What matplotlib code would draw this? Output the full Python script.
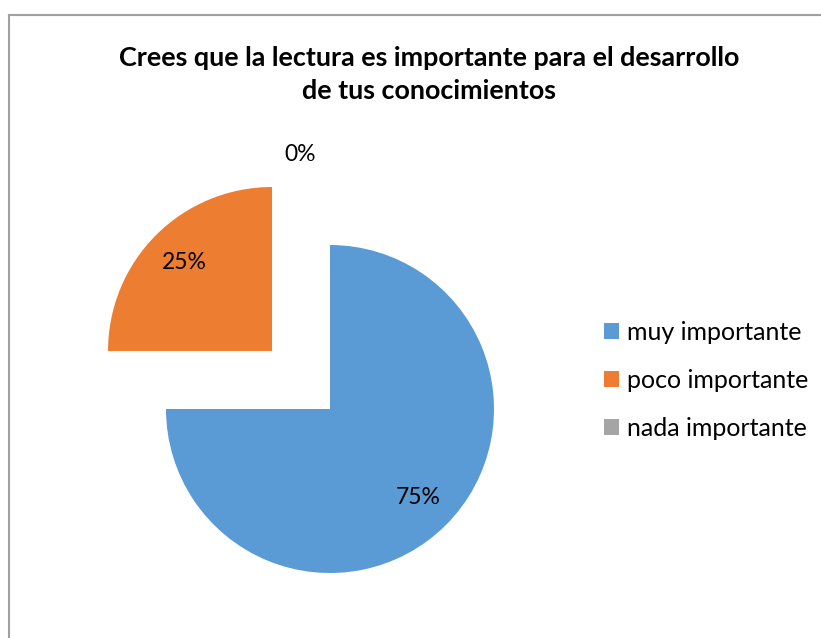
import matplotlib
matplotlib.use("Agg")
import matplotlib.pyplot as plt
from matplotlib.lines import Line2D

# Data
categories = ["muy importante", "poco importante", "nada importante"]
shares = [75, 25, 0]
colors = ["#5B9BD5", "#ED7D31", "#A5A5A5"]
explode = [0.0, 0.5, 0.0]
title = "Crees que la lectura es importante para el desarrollo\nde tus conocimientos"

plt.rcParams['font.family'] = ['Lato', 'DejaVu Sans']

W, H = 821, 638
fig = plt.figure(figsize=(W / 100, H / 100), dpi=100)
ax = fig.add_axes([0, 0, 1, 1])

# pie centre and radius in pixels, map into data units (radius = 1)
cx, cy, rpx = 330, 409, 164

wedges, texts, autotexts = ax.pie(
    shares, colors=colors, explode=explode, startangle=90, counterclock=False,
    autopct=lambda p: f"{p:.0f}%", pctdistance=0.76, radius=1,
    wedgeprops=dict(linewidth=0), textprops=dict(fontsize=16.5, color="black"))
ax.set_xlim(-cx / rpx, (W - cx) / rpx)
ax.set_ylim(-(H - cy) / rpx, cy / rpx)
ax.set_aspect('auto')
ax.axis('off')

# the 0% label sits outside above the pie
autotexts[2].set_position((-0.18, 1.55))

fig.text(429 / W, 1 - 74.5 / H, title, ha='center', va='center',
         fontsize=19.4, fontweight='bold', linespacing=1.45)

leg = fig.legend(wedges, categories, loc='center left',
                 bbox_to_anchor=(604 / W, 1 - 380 / H), frameon=False,
                 fontsize=18, handlelength=0.6, handleheight=0.6,
                 handletextpad=0.32, labelspacing=1.0,
                 borderpad=0, borderaxespad=0)

# chart area border (only top and left edges visible in the crop)
bc = "#A0A0A0"
fig.add_artist(Line2D([8.5 / W, 1], [1 - 14.5 / H, 1 - 14.5 / H], color=bc, lw=1.5,
                      transform=fig.transFigure))
fig.add_artist(Line2D([8.5 / W, 8.5 / W], [0, 1 - 14.5 / H], color=bc, lw=1.5,
                      transform=fig.transFigure))

fig.savefig("out.png", dpi=100)
